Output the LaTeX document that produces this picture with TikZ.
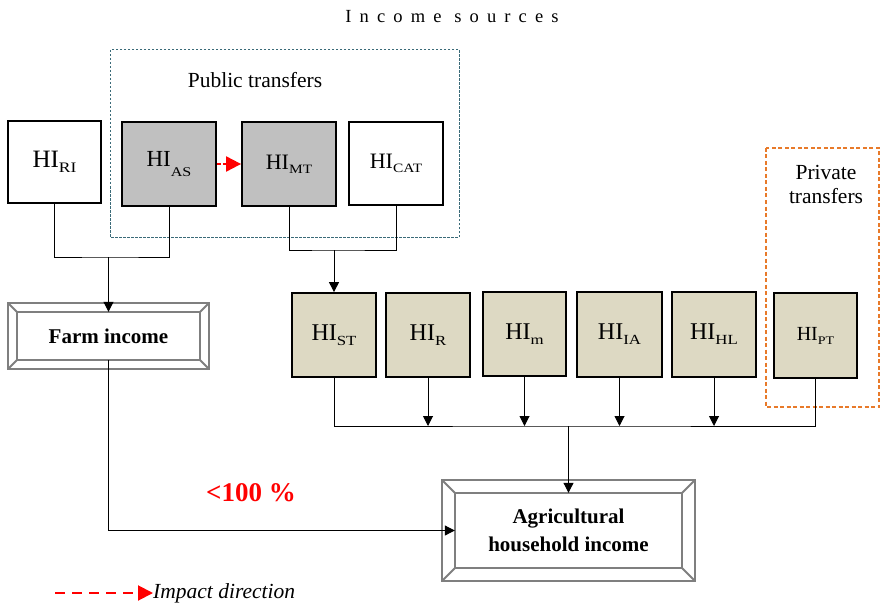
\documentclass[tikz,border=0pt]{standalone}
\usepackage{fontspec}
\setmainfont{Liberation Serif}
\usetikzlibrary{arrows.meta}
\definecolor{boxgray}{HTML}{C0C0C0}
\definecolor{boxtan}{HTML}{DDD9C3}
\definecolor{publine}{HTML}{3A6A78}
\definecolor{privline}{HTML}{E87A2A}
\definecolor{framegray}{HTML}{7F7F7F}
\newcommand{\HIsub}[2][-0.2em]{HI\raisebox{#1}{\scalebox{0.7}[0.58]{#2}}}

\begin{document}
\begin{tikzpicture}[x=1pt,y=-1pt,
  hibox/.style={draw,line width=1.8pt,minimum width=84pt,minimum height=84pt,inner sep=0pt,font=\fontsize{24}{28}\selectfont},
  pubbox/.style={hibox,minimum width=94pt},
  tanbox/.style={hibox,fill=boxtan},
  result/.style={align=center,inner sep=0pt,font=\fontsize{21}{28}\selectfont\bfseries},
  frame/.style={draw=framegray,line width=2pt},
  arr/.style={line width=1pt,-{Triangle[length=10pt,width=10pt]}},
  impact/.style={red,line width=2pt,dash pattern=on 10pt off 7pt,-{Triangle[length=15pt,width=15pt]}},
  label/.style={font=\fontsize{21.5}{24}\selectfont,align=center}]
\useasboundingbox (0,0) rectangle (880,604);

\node[font=\fontsize{18.5}{20}\selectfont\addfontfeature{LetterSpace=44}] (title) at (452,17) {Income sources};

\draw[publine,line width=1pt,dash pattern=on 2.5pt off 1.5pt] (110,50) rectangle (459,237);
\node[label] (publbl) at (255,80) {Public transfers};
\draw[privline,line width=1.5pt,dash pattern=on 4pt off 2.5pt] (766,148) rectangle (879,407);
\node[label] (privlbl) at (826,184) {Private\\transfers};

\node[pubbox,minimum width=93pt,minimum height=82pt,font=\fontsize{25}{28}\selectfont] (ri) at (54.5,162) {\HIsub{RI}};
\node[pubbox,fill=boxgray,font=\fontsize{23}{26}\selectfont] (as) at (169,164) {\HIsub[-0.4em]{AS}};
\node[pubbox,fill=boxgray,font=\fontsize{22}{24}\selectfont] (mt) at (289,164) {\HIsub{MT}};
\node[pubbox,minimum height=83pt,font=\fontsize{22}{24}\selectfont] (cat) at (396,163.5) {\HIsub{CAT}};

\node[tanbox] (st) at (334,335) {\HIsub{ST}};
\node[tanbox] (r) at (428,335) {\HIsub{R}};
\node[tanbox,minimum width=83pt] (m) at (524.5,334) {\HIsub{m}};
\node[tanbox,minimum width=85pt,minimum height=85pt] (ia) at (619.5,334.5) {\HIsub{IA}};
\node[tanbox,minimum height=85pt] (hl) at (714,334.5) {\HIsub{HL}};
\node[tanbox,minimum width=83pt,minimum height=85pt,font=\fontsize{20}{24}\selectfont] (pt) at (815.5,335.5) {\HIsub{PT}};

\node[result,minimum width=183pt,minimum height=48pt] (farm) at (108.5,336) {Farm income};
\node[result,minimum width=227pt,minimum height=75pt] (agri) at (568.5,530.5) {Agricultural\\household income};
\foreach \b/\d in {farm/9,agri/13}{
  \draw[frame] (\b.north west) rectangle (\b.south east);
  \draw[frame] ([shift={(-\d,-\d)}]\b.north west) rectangle ([shift={(\d,\d)}]\b.south east);
  \draw[frame] (\b.north west) -- ++(-\d,-\d) (\b.north east) -- ++(\d,-\d)
    (\b.south west) -- ++(-\d,\d) (\b.south east) -- ++(\d,\d);
}

\coordinate (jct1) at (108.5,257);
\coordinate (jct2) at (334,250);
\coordinate (jct3) at (568.5,426);

\draw[line width=1pt] (ri.south) |- (jct1) -| (as.south);
\draw[arr] (jct1) -- (farm.north);
\draw[line width=1pt] (mt.south) |- (jct2) -| (cat.south);
\draw[arr] (jct2) -- (st.north);
\draw[line width=1pt] (st.south) |- (jct3) -| (pt.south);
\foreach \n in {r,m,ia,hl}
  \draw[arr] (\n.south) -- (\n.south |- jct3);
\draw[arr] (jct3) -- (agri.north);
\draw[arr] (farm.south) |- (agri.west);

\draw[impact,dash pattern=on 4pt off 2pt] (as.east) -- (mt.west);

\node[red,font=\fontsize{27}{30}\selectfont\bfseries] (share) at (251,493) {<100 \%};

\coordinate (legstart) at (55,593);
\node[anchor=west,inner sep=0pt,font=\fontsize{21.5}{24}\selectfont\itshape] (legtxt) at (153,593) {Impact direction};
\draw[impact] (legstart) -- (legtxt.west |- legstart);
\end{tikzpicture}
\end{document}
